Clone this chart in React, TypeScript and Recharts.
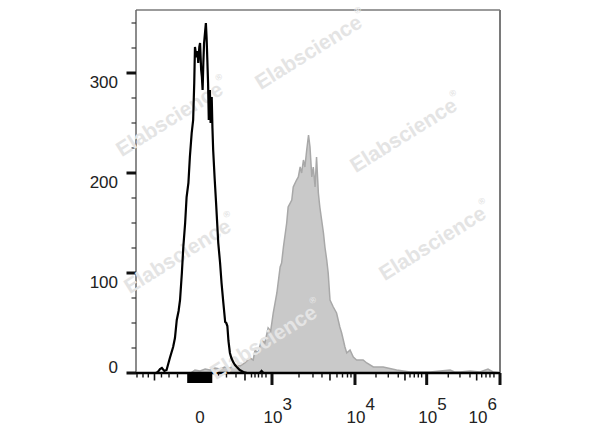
import React from 'react';
import { ComposedChart, Area, Line, XAxis, YAxis } from 'recharts';

const W = 600;
const H = 427;
// plot area: x 136..500, y 10..373
const MARGIN = { top: 9, right: 99, bottom: 53, left: 135 };
const OVERLAY_MARGIN = { top: 10, right: 100, bottom: 54, left: 136 };
const FONT = '"Liberation Sans", Arial, Helvetica, sans-serif';

// Fluorescence channel (display scale 0..1000) and event counts
const controlChannels = [0, 55, 60, 66, 71, 78, 84, 93, 102, 107, 112, 117, 121, 126, 130, 135, 139, 144, 148, 153, 157, 160, 162, 165, 167, 169, 171, 174, 176, 179, 181, 183, 185, 187, 190, 192, 194, 196, 198, 200, 202, 203, 205, 207, 208, 210, 212, 216, 220, 223, 226, 231, 235, 240, 245, 248, 251, 254, 258, 262, 267, 272, 277, 285, 295, 305, 340, 345, 350, 1000];
const controlCounts = [0, 0, 1, 4, 5, 2, 3, 15, 26, 35, 53, 62, 73, 100, 126, 150, 176, 190, 216, 240, 253, 290, 326, 318, 316, 322, 310, 326, 330, 303, 296, 283, 310, 330, 342, 350, 335, 313, 290, 253, 270, 283, 250, 265, 276, 245, 223, 195, 170, 150, 130, 110, 90, 70, 51, 50, 47, 32, 20, 15, 11, 8, 6, 3, 1, 0, 0, 2, 0, 0];

const stainedChannels = [0, 150, 162, 176, 190, 203, 217, 231, 244, 258, 272, 286, 299, 313, 322, 327, 335, 345, 354, 363, 370, 377, 387, 396, 400, 405, 414, 418, 428, 432, 441, 446, 451, 455, 460, 464, 469, 474, 478, 483, 487, 492, 496, 501, 505, 510, 515, 519, 524, 528, 533, 542, 551, 560, 565, 574, 579, 588, 597, 606, 624, 634, 652, 679, 716, 753, 808, 863, 875, 890, 918, 945, 967, 981, 1000];
const stainedCounts = [0, 0, 3, 2, 4, 3, 5, 4, 6, 5, 8, 7, 10, 15, 13, 23, 20, 33, 30, 45, 42, 60, 80, 106, 110, 126, 150, 166, 173, 186, 193, 196, 206, 200, 213, 206, 223, 238, 226, 196, 206, 186, 216, 180, 166, 153, 140, 126, 113, 100, 73, 66, 60, 46, 40, 26, 20, 23, 16, 13, 13, 10, 6, 6, 3, 1, 1, 3, 1, 1, 2, 1, 4, 1, 0];

const controlData = controlChannels.map((x, i) => ({ x, y: controlCounts[i] }));
const stainedData = stainedChannels.map((x, i) => ({ x, y: stainedCounts[i] }));

// X axis ticks (channel units)
const xZeroTick = 176;
const xZeroLabel = '0';
const xMajorTicks = [373.6, 601.6, 798.6, 1000];
const xMajorExponents = ['3', '4', '5', '6'];
const xMediumTicks = [50.8, 299.4, 532.9, 738.9, 935.9];
const xMinorTicks = [2.7, 19.2, 33.8, 70, 90.7, 114, 226.6, 248.6, 274.7, 317.3, 326.9, 336.5, 346.1, 357.1, 447.8, 486.2, 510.9, 552.1, 567.3, 581, 590.6, 659.3, 693.1, 720.5, 752.7, 764.5, 775.5, 784.8, 857.9, 890, 917.5, 949.7, 961.5, 972.4, 983.4];
const xClusterTicks = [144.2, 148.3, 152.5, 156.6, 160.7, 164.8, 168.9, 173.1, 177.2, 181.3, 185.4, 189.5, 193.7, 197.8, 201.9, 206];
const xAllTicks = [...xMinorTicks, ...xMediumTicks, ...xClusterTicks, xZeroTick, ...xMajorTicks].sort((a, b) => a - b);

// Y axis ticks
const yTicks = [0, 25, 50, 75, 100, 125, 150, 175, 200, 225, 250, 275, 300, 325, 350];
const yLabelTicks = [0, 100, 200, 300];

const watermarks = [
  [311, 50],
  [172, 117],
  [406, 133],
  [180, 254],
  [435, 241],
  [266, 340],
];

const AXIS_Y = 373;
const AXIS_X = 136;
const PLOT_RIGHT = 500;

const XTick = (props: any) => {
  const { x, payload } = props;
  const v = payload.value;
  const mi = xMajorTicks.indexOf(v);
  if (mi >= 0) {
    const lx = Math.min(x + 1, PLOT_RIGHT - 22);
    return (
      <g>
        <line x1={x} x2={x} y1={AXIS_Y} y2={AXIS_Y + 12} stroke="#111" strokeWidth={3} />
        <text x={lx} y={423} textAnchor="middle" fontSize={17} fontFamily={FONT} fill="#222">10</text>
        <text x={lx + 9.5} y={410} textAnchor="start" fontSize={17} fontFamily={FONT} fill="#222">{xMajorExponents[mi]}</text>
      </g>
    );
  }
  if (v === xZeroTick) {
    return (
      <text x={x} y={423} textAnchor="middle" fontSize={17} fontFamily={FONT} fill="#222">{xZeroLabel}</text>
    );
  }
  if (xClusterTicks.indexOf(v) >= 0) {
    return <line x1={x} x2={x} y1={AXIS_Y} y2={AXIS_Y + 10} stroke="#000" strokeWidth={2.6} />;
  }
  if (xMediumTicks.indexOf(v) >= 0) {
    return <line x1={x} x2={x} y1={AXIS_Y} y2={AXIS_Y + 7.5} stroke="#111" strokeWidth={1.6} />;
  }
  return <line x1={x} x2={x} y1={AXIS_Y} y2={AXIS_Y + 4.5} stroke="#111" strokeWidth={1.4} />;
};

const YTick = (props: any) => {
  const { y, payload } = props;
  const v = payload.value;
  if (yLabelTicks.indexOf(v) >= 0) {
    const dy = v === 0 ? 0 : 14.5;
    return (
      <g>
        <line x1={AXIS_X - 9.5} x2={AXIS_X} y1={y} y2={y} stroke="#111" strokeWidth={3} />
        <text x={118} y={y + dy} textAnchor="end" fontSize={17} fontFamily={FONT} fill="#222">{String(v)}</text>
      </g>
    );
  }
  return <line x1={AXIS_X - 4.5} x2={AXIS_X} y1={y} y2={y} stroke="#333" strokeWidth={1.2} />;
};

const layer: React.CSSProperties = { position: 'absolute', left: 0, top: 0 };

export default function App() {
  return (
    <div style={{ position: 'absolute', left: 0, top: 0, width: W, height: H, background: '#fff', overflow: 'hidden' }}>
      <div style={layer}>
        <ComposedChart width={W} height={H} margin={MARGIN}>
          <XAxis
            dataKey="x"
            type="number"
            domain={[0, 1000]}
            ticks={xAllTicks}
            interval={0}
            height={1}
            tickSize={0}
            tickMargin={0}
            tickLine={false}
            tick={XTick}
            axisLine={{ stroke: '#000', strokeWidth: 2.5 }}
            allowDataOverflow
          />
          <XAxis
            xAxisId="top"
            orientation="top"
            type="number"
            domain={[0, 1000]}
            height={1}
            tick={false}
            tickLine={false}
            axisLine={{ stroke: '#7a7a7a', strokeWidth: 1.5 }}
          />
          <YAxis
            type="number"
            domain={[0, 363]}
            ticks={yTicks}
            interval={0}
            width={1}
            tickSize={0}
            tickMargin={0}
            tickLine={false}
            tick={YTick}
            axisLine={{ stroke: '#666', strokeWidth: 1.5 }}
            allowDataOverflow
          />
          <YAxis
            yAxisId="right"
            orientation="right"
            type="number"
            domain={[0, 363]}
            width={1}
            tick={false}
            tickLine={false}
            axisLine={{ stroke: '#7a7a7a', strokeWidth: 2 }}
          />
          <Area
            data={stainedData}
            dataKey="y"
            type="linear"
            fill="#c9c9c9"
            fillOpacity={1}
            stroke="#a8a8a8"
            strokeWidth={1.5}
            dot={false}
            activeDot={false}
            isAnimationActive={false}
          />
        </ComposedChart>
      </div>
      <svg style={{ ...layer, pointerEvents: 'none' }} width={W} height={H}>
        {watermarks.map(([cx, cy], i) => (
          <text
            key={i}
            x={cx}
            y={cy}
            transform={`rotate(-32 ${cx} ${cy})`}
            textAnchor="middle"
            dominantBaseline="central"
            fontSize={21}
            fontWeight="bold"
            fontFamily={FONT}
            fill="#e4e4e4"
          >
            Elabscience
            <tspan fontSize={9} dy={-9}>®</tspan>
          </text>
        ))}
      </svg>
      <div style={layer}>
        <ComposedChart width={W} height={H} margin={OVERLAY_MARGIN}>
          <XAxis dataKey="x" type="number" domain={[0, 1000]} hide />
          <YAxis type="number" domain={[0, 363]} hide />
          <Line
            data={controlData}
            dataKey="y"
            type="linear"
            stroke="#000"
            strokeWidth={2.2}
            dot={false}
            activeDot={false}
            isAnimationActive={false}
          />
        </ComposedChart>
      </div>
    </div>
  );
}
